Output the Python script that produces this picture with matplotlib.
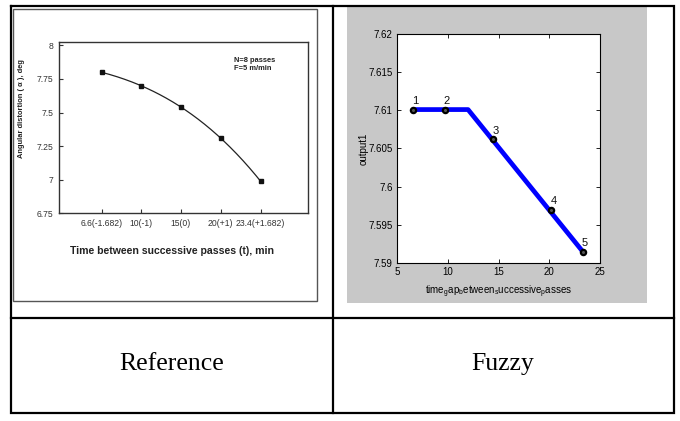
import matplotlib
matplotlib.use('Agg')
import matplotlib.pyplot as plt
from matplotlib.patches import Rectangle
import numpy as np

# ---------------- data ----------------
ref_positions = [1, 2, 3, 4, 5]
ref_labels = ['6.6(-1.682)', '10(-1)', '15(0)', '20(+1)', '23.4(+1.682)']
ref_values = [7.80, 7.70, 7.54, 7.31, 6.99]
ref_yticks = [6.75, 7, 7.25, 7.5, 7.75, 8]
ref_yticklabels = ['6.75', '7', '7.25', '7.5', '7.75', '8']

fz_point_x = [6.6, 9.7, 14.5, 20.2, 23.3]
fz_point_y = [7.6101, 7.6101, 7.6062, 7.5970, 7.5915]
fz_point_labels = ['1', '2', '3', '4', '5']
fz_line_x = [6.6, 12.0, 23.3]
fz_line_y = [7.6101, 7.6101, 7.5915]
fz_xticks = [5, 10, 15, 20, 25]
fz_yticks = [7.59, 7.595, 7.60, 7.605, 7.61, 7.615, 7.62]
fz_yticklabels = ['7.59', '7.595', '7.6', '7.605', '7.61', '7.615', '7.62']

captions = ['Reference', 'Fuzzy']

# ---------------- layout helpers ----------------
W, H = 680, 421
fig = plt.figure(figsize=(W / 100, H / 100), dpi=100)
fig.patch.set_facecolor('white')

def rect(x0, y0, x1, y1):
    return [x0 / W, 1 - y1 / H, (x1 - x0) / W, (y1 - y0) / H]

NARROW = ['Liberation Sans Narrow', 'Liberation Sans', 'DejaVu Sans']
SANS = ['Liberation Sans', 'DejaVu Sans']
plt.rcParams['mathtext.fontset'] = 'custom'
plt.rcParams['mathtext.rm'] = 'Liberation Sans'

# background / table
bg = fig.add_axes([0, 0, 1, 1])
bg.set_xlim(0, W)
bg.set_ylim(H, 0)
bg.axis('off')
bg.add_patch(Rectangle((347, 7), 300, 296, facecolor='#c8c8c8', edgecolor='none'))
bg.add_patch(Rectangle((13, 8.5), 304, 292.5, fill=False, edgecolor='#555555', lw=1.0))
bg.plot([11, 674, 674, 11, 11], [6, 6, 413, 413, 6], color='black', lw=1.6,
        solid_joinstyle='miter')
bg.plot([333, 333], [6, 413], color='black', lw=1.6)
bg.plot([11, 674], [318, 318], color='black', lw=1.6)
bg.text(172, 364, captions[0], family=['Liberation Serif', 'DejaVu Serif'],
        fontsize=18.5, ha='center', va='center', color='black')
bg.text(503, 364, captions[1], family=['Liberation Serif', 'DejaVu Serif'],
        fontsize=18.5, ha='center', va='center', color='black')

# ---------------- left (reference) chart ----------------
ax1 = fig.add_axes(rect(58.6, 42.3, 307.8, 213.4))
ax1.set_facecolor('white')
coef = np.polyfit(ref_positions, ref_values, 3)
xs = np.linspace(ref_positions[0], ref_positions[-1], 200)
ax1.plot(xs, np.polyval(coef, xs), color='#222222', lw=0.9)
ax1.plot(ref_positions, ref_values, 's', color='#111111', ms=3.2)
ax1.set_xlim(-0.08, 6.19)
ax1.set_ylim(6.75, 8.023)
ax1.set_xticks(ref_positions)
ax1.set_xticklabels(ref_labels, family=NARROW, fontsize=6.2, color='#333333')
ax1.set_yticks(ref_yticks)
ax1.set_yticklabels(ref_yticklabels, family=NARROW, fontsize=6.2, color='#333333')
ax1.tick_params(direction='in', length=3, width=0.8, color='#333333', pad=4)
for s in ax1.spines.values():
    s.set_color('#333333')
    s.set_linewidth(1.0)
ax1.set_ylabel('Angular distortion ( \u03b1 ), deg', family=SANS, fontsize=5.4,
               fontweight='bold', color='#222222')
ax1.yaxis.set_label_coords(-0.135, 0.61)
ax1.set_xlabel('Time between successive passes (t), min', family=SANS, fontsize=7.6,
               fontweight='bold', color='#222222')
ax1.xaxis.set_label_coords(0.455, -0.19)
ax1.text(0.705, 0.87, 'N=8 passes\nF=5 m/min', transform=ax1.transAxes, family=SANS,
         fontsize=5.4, fontweight='bold', color='#222222', ha='left', va='center',
         linespacing=1.3)

# ---------------- right (fuzzy) chart ----------------
ax2 = fig.add_axes(rect(397, 34, 600, 263))
ax2.set_facecolor('white')
ax2.plot(fz_line_x, fz_line_y, color='#0000ff', lw=3.4, solid_capstyle='butt', zorder=2)
ax2.plot(fz_point_x, fz_point_y, 'o', mfc='#555555', mec='black', mew=1.6, ms=3.8, zorder=3)
for x, y, lab in zip(fz_point_x, fz_point_y, fz_point_labels):
    ax2.annotate(lab, (x, y), xytext=(1.5, 2.5), textcoords='offset points',
                 ha='center', va='bottom', fontsize=8, family=NARROW, color='#111111')
ax2.set_xlim(5, 25)
ax2.set_ylim(7.59, 7.62)
ax2.set_xticks(fz_xticks)
ax2.set_xticklabels([str(t) for t in fz_xticks], family=NARROW, fontsize=7)
ax2.set_yticks(fz_yticks)
ax2.set_yticklabels(fz_yticklabels, family=NARROW, fontsize=7)
ax2.tick_params(direction='in', length=3, width=0.6, top=True, right=True, pad=3)
for s in ax2.spines.values():
    s.set_linewidth(0.8)
ax2.set_ylabel('output1', family=NARROW, fontsize=7)
ax2.yaxis.set_label_coords(-0.14, 0.5)
ax2.set_xlabel(r'time$_{\rm g}$ap$_{\rm b}$etween$_{\rm s}$uccessive$_{\rm p}$asses',
               family=NARROW, fontsize=7)
ax2.xaxis.set_label_coords(0.5, -0.09)

fig.savefig('out.png', dpi=100)
